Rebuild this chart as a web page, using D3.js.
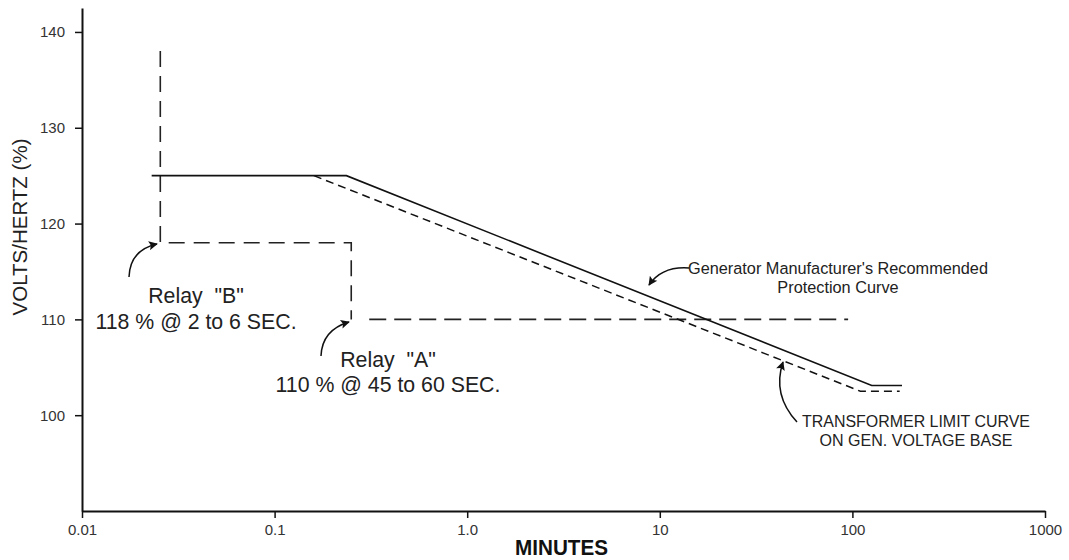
<!DOCTYPE html>
<html>
<head>
<meta charset="utf-8">
<script src="https://cdn.jsdelivr.net/npm/d3@7"></script>
<style>
  html, body { margin: 0; padding: 0; background: #fff; }
  svg { display: block; font-family: "Liberation Sans", Arial, Helvetica, sans-serif; }
  text { white-space: pre; }
</style>
</head>
<body>
<svg id="chart" width="1069" height="560"></svg>
<script>
// ---- data (minutes, volts/hertz %) ----
const xTicks = [0.01, 0.1, 1, 10, 100, 1000];
const xTickLabels = ["0.01", "0.1", "1.0", "10", "100", "1000"];
const yTicks = [100, 110, 120, 130, 140];
const yTickLabels = ["100", "110", "120", "130", "140"];

const generatorCurve = [[0.023, 125], [0.236, 125], [126, 103.1], [181, 103.1]];
const transformerCurve = [[0.16, 125], [110, 102.5], [176, 102.5]];
const relayB = [[0.0255, 138], [0.0255, 118], [0.25, 118], [0.25, 110]];
const relayA = [[0.31, 110], [95, 110]];

const relayBLabel = ['Relay  "B"', "118 % @ 2 to 6 SEC."];
const relayALabel = ['Relay  "A"', "110 % @ 45 to 60 SEC."];
const generatorLabel = ["Generator Manufacturer's Recommended", "Protection Curve"];
const transformerLabel = ["TRANSFORMER LIMIT CURVE", "ON GEN. VOLTAGE BASE"];

// ---- layout ----
const svg = d3.select("#chart");
const x = d3.scaleLog().domain([0.01, 1000]).range([82, 1045]);
const y = d3.scaleLinear().domain([90, 142.5]).range([511, 8]);

// marker
svg.append("defs").append("marker")
  .attr("id", "arrow").attr("viewBox", "0 0 10 10")
  .attr("refX", 9).attr("refY", 5)
  .attr("markerWidth", 12).attr("markerHeight", 9)
  .attr("markerUnits", "userSpaceOnUse")
  .attr("orient", "auto")
  .append("path").attr("d", "M0,0 L10,5 L0,10 L2,5 Z").attr("fill", "#111");

// axes
const xAxis = d3.axisBottom(x).tickValues(xTicks)
  .tickFormat((d, i) => xTickLabels[i]).tickSize(7).tickSizeOuter(0).tickPadding(6);
const yAxis = d3.axisLeft(y).tickValues(yTicks)
  .tickFormat((d, i) => yTickLabels[i]).tickSize(7).tickSizeOuter(0).tickPadding(10);

const gx = svg.append("g").attr("transform", "translate(0,511)").call(xAxis);
const gy = svg.append("g").attr("transform", "translate(82,0)").call(yAxis);
[gx, gy].forEach(g => {
  g.select(".domain").attr("stroke", "#111").attr("stroke-width", 2);
  g.selectAll(".tick line").attr("stroke", "#111").attr("stroke-width", 1.5);
  g.selectAll(".tick text").attr("font-size", 15).attr("fill", "#333")
    .attr("font-family", '"Liberation Sans", Arial, sans-serif');
});

// axis titles
svg.append("text").attr("x", 561.5).attr("y", 555)
  .attr("text-anchor", "middle").attr("font-size", 22).attr("font-weight", "bold")
  .attr("textLength", 93).attr("lengthAdjust", "spacingAndGlyphs")
  .attr("fill", "#111").text("MINUTES");
svg.append("text").attr("transform", "translate(27,227) rotate(-90)")
  .attr("text-anchor", "middle").attr("font-size", 20.5).attr("fill", "#222")
  .text("VOLTS/HERTZ (%)");

// lines
const line = d3.line().x(d => x(d[0])).y(d => y(d[1]));
svg.append("path").datum(relayB).attr("d", line)
  .attr("fill", "none").attr("stroke", "#222").attr("stroke-width", 1.6)
  .attr("stroke-dasharray", "16,9");
svg.append("path").datum(relayA).attr("d", line)
  .attr("fill", "none").attr("stroke", "#222").attr("stroke-width", 1.6)
  .attr("stroke-dasharray", "17,8");
svg.append("path").datum(transformerCurve).attr("d", line)
  .attr("fill", "none").attr("stroke", "#111").attr("stroke-width", 1.5)
  .attr("stroke-dasharray", "8,5");
svg.append("path").datum(generatorCurve).attr("d", line)
  .attr("fill", "none").attr("stroke", "#111").attr("stroke-width", 1.6);

// annotations
function label(lines, cx, y0, size, dy, fill, widths) {
  const t = svg.append("g");
  lines.forEach((s, i) => {
    const el = t.append("text").attr("x", cx).attr("y", y0 + i * dy)
      .attr("text-anchor", "middle").attr("font-size", size).attr("fill", fill).text(s);
    if (widths) el.attr("textLength", widths[i]).attr("lengthAdjust", "spacingAndGlyphs");
  });
}
label(relayBLabel, 196, 303, 21.3, 25.5, "#222");
label(relayALabel, 388, 366.5, 21.3, 25.5, "#222");
label(generatorLabel, 838, 274, 16.3, 19, "#222");
label(transformerLabel, 916, 427, 16, 19, "#222", [228, 193]);

// arrows
const arrows = [
  "M129,277 Q130,250 157,244",
  "M321,356 Q322,330 349,322",
  "M689,268 Q662,266 649,285",
  "M797,422 Q772,395 783,362"
];
svg.selectAll("path.arrow").data(arrows).enter().append("path")
  .attr("class", "arrow").attr("d", d => d)
  .attr("fill", "none").attr("stroke", "#111").attr("stroke-width", 1.5)
  .attr("marker-end", "url(#arrow)");
</script>
</body>
</html>
